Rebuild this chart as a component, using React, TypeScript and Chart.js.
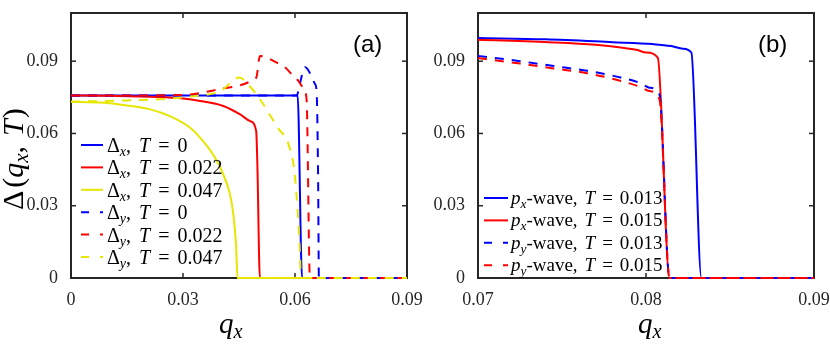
import React, { useEffect, useRef } from 'react';
import { Chart, registerables } from 'chart.js';

Chart.register(...registerables);

// ---------- colours ----------
const BLUE = '#0000FF';
const RED = '#FF0000';
const YELLOW = '#E6E600';
const AXIS = '#262626';

// ---------- shared y axis ----------
const yTicks = [0, 0.03, 0.06, 0.09];
const yTickLabels = ['0', '0.03', '0.06', '0.09'];
const yMax = 0.11;

// ---------- panel (a) ----------
const aXTicks = [0, 0.03, 0.06, 0.09];
const aXTickLabels = ['0', '0.03', '0.06', '0.09'];

const dxT0Q = [0, 0.02, 0.04, 0.0607, 0.0619, 0.075, 0.09];
const dxT0V = [0.0758, 0.0758, 0.0758, 0.0758, 0, 0, 0];

const dxT022Q = [0, 0.01, 0.0212, 0.03, 0.0346, 0.0408, 0.0453, 0.048, 0.0496, 0.0499, 0.0506, 0.07, 0.09];
const dxT022V = [0.0758, 0.0757, 0.0752, 0.0745, 0.0735, 0.0714, 0.0679, 0.0651, 0.061, 0.0485, 0, 0, 0];

const dxT047Q = [0, 0.008, 0.015, 0.0212, 0.0265, 0.0319, 0.0354, 0.0386, 0.0408, 0.0426, 0.0435, 0.0442, 0.0446, 0.06, 0.09];
const dxT047V = [0.0732, 0.0728, 0.0716, 0.07, 0.0672, 0.0624, 0.0568, 0.0499, 0.0429, 0.0346, 0.0262, 0.0138, 0, 0, 0];

const dyT0Q = [0, 0.03, 0.0605, 0.0612, 0.0627, 0.0654, 0.0658, 0.0662, 0.0664, 0.075, 0.09];
const dyT0V = [0.0758, 0.0758, 0.0758, 0.08, 0.0875, 0.0804, 0.0771, 0.04, 0, 0, 0];

const dyT022Q = [0, 0.02, 0.03, 0.0354, 0.04, 0.0453, 0.0488, 0.0497, 0.0506, 0.0551, 0.0573, 0.0591, 0.0609, 0.0622, 0.0631, 0.064, 0.075, 0.09];
const dyT022V = [0.0758, 0.0758, 0.076, 0.077, 0.0785, 0.08, 0.0822, 0.0835, 0.0922, 0.0894, 0.0875, 0.0846, 0.0818, 0.079, 0.0742, 0, 0, 0];

const dyT047Q = [0, 0.012, 0.0238, 0.0319, 0.04, 0.0451, 0.0474, 0.0506, 0.0551, 0.0587, 0.06, 0.0613, 0.0616, 0.075, 0.09];
const dyT047V = [0.0732, 0.0736, 0.0742, 0.0753, 0.0776, 0.0832, 0.0804, 0.0742, 0.063, 0.0533, 0.042, 0.0117, 0, 0, 0];

const aLegendSub = ['x', 'x', 'x', 'y', 'y', 'y'];
const aLegendT = ['0', '0.022', '0.047', '0', '0.022', '0.047'];

// ---------- panel (b) ----------
const bXTicks = [0.07, 0.08, 0.09];
const bXTickLabels = ['0.07', '0.08', '0.09'];

const pxT013Q = [0.07, 0.074, 0.078, 0.0804, 0.0815, 0.0822, 0.0827, 0.0833, 0.09];
const pxT013V = [0.0996, 0.0991, 0.0979, 0.0971, 0.0963, 0.0952, 0.0936, 0, 0];

const pxT015Q = [0.07, 0.0745, 0.077, 0.0785, 0.0795, 0.08, 0.0807, 0.0814, 0.09];
const pxT015V = [0.0989, 0.0978, 0.0968, 0.0957, 0.0946, 0.0936, 0.0915, 0, 0];

const pyT013Q = [0.07, 0.0725, 0.0745, 0.0765, 0.0785, 0.0797, 0.0802, 0.0808, 0.0814, 0.09];
const pyT013V = [0.0922, 0.09, 0.088, 0.086, 0.0832, 0.0808, 0.079, 0.0762, 0, 0];

const pyT015Q = [0.07, 0.0725, 0.0745, 0.0765, 0.0785, 0.0797, 0.0802, 0.0808, 0.0814, 0.09];
const pyT015V = [0.0913, 0.089, 0.087, 0.085, 0.0818, 0.0792, 0.0776, 0.0742, 0, 0];

const bLegendSub = ['x', 'x', 'y', 'y'];
const bLegendT = ['0.013', '0.015', '0.013', '0.015'];

// ---------- helpers ----------
const SERIF = '"Liberation Serif", "Times New Roman", serif';
const SANS = '"Liberation Sans", Arial, sans-serif';
const serif = (size: number, italic = false) => `${italic ? 'italic ' : ''}${size}px ${SERIF}`;

type Seg = { t?: string; it?: boolean; sub?: boolean; gap?: number };

function drawRich(ctx: CanvasRenderingContext2D, segs: Seg[], x: number, y: number, size: number, subDrop = 0.2) {
  let cx = x;
  for (const s of segs) {
    if (s.gap) {
      cx += s.gap;
      continue;
    }
    const t = s.t || '';
    const fs = s.sub ? size * 0.7 : size;
    ctx.font = serif(fs, !!s.it);
    ctx.fillText(t, cx, s.sub ? y + size * subDrop : y);
    cx += ctx.measureText(t).width;
  }
  return cx - x;
}

const pts = (q: number[], v: number[]) => q.map((x, i) => ({ x, y: v[i] }));

type DS = { q: number[]; v: number[]; color: string; dashed: boolean };

type Panel = {
  series: DS[];
  xMin: number;
  xMax: number;
  xTicks: number[];
  xTickLabels: string[];
  yAxisWidth: number;
  padRight: number;
  decorate: (chart: any) => void;
};

function line(ctx: CanvasRenderingContext2D, x1: number, y1: number, x2: number, y2: number) {
  ctx.beginPath();
  ctx.moveTo(x1, y1);
  ctx.lineTo(x2, y2);
  ctx.stroke();
}

function makeConfig(p: Panel): any {
  const frame = {
    id: 'frame',
    beforeDatasetsDraw(chart: any) {
      const { ctx, chartArea } = chart;
      const { left, right, top, bottom } = chartArea;
      const x = chart.scales.x;
      const y = chart.scales.y;
      ctx.save();
      ctx.strokeStyle = AXIS;
      ctx.setLineDash([]);
      ctx.lineWidth = 2;
      ctx.strokeRect(left, top, right - left, bottom - top);
      ctx.lineWidth = 1.5;
      for (const v of p.xTicks) {
        const px = x.getPixelForValue(v);
        line(ctx, px, bottom, px, bottom - 5);
        line(ctx, px, top, px, top + 5);
      }
      for (const v of yTicks) {
        const py = y.getPixelForValue(v);
        line(ctx, left, py, left + 5, py);
        line(ctx, right, py, right - 5, py);
      }
      ctx.restore();
    },
    afterDatasetsDraw(chart: any) {
      p.decorate(chart);
    },
  };

  const tickFont = { family: SERIF, size: 18 };

  return {
    type: 'line',
    data: {
      datasets: p.series.map((s, i) => ({
        data: pts(s.q, s.v),
        borderColor: s.color,
        backgroundColor: s.color,
        borderWidth: 2,
        borderDash: s.dashed ? [9, 8] : [],
        pointRadius: 0,
        cubicInterpolationMode: 'monotone',
        fill: false,
        clip: 6,
        order: -i,
      })),
    },
    options: {
      responsive: false,
      devicePixelRatio: 1,
      animation: false,
      events: [],
      layout: { padding: { top: 13, right: p.padRight, bottom: 0, left: 0 } },
      plugins: { legend: { display: false }, tooltip: { enabled: false } },
      scales: {
        x: {
          type: 'linear',
          min: p.xMin,
          max: p.xMax,
          afterBuildTicks: (s: any) => {
            s.ticks = p.xTicks.map((v) => ({ value: v }));
          },
          ticks: {
            callback: (_v: any, i: number) => p.xTickLabels[i],
            font: tickFont,
            color: AXIS,
            padding: 3,
            maxRotation: 0,
            autoSkip: false,
          },
          grid: { display: false },
          border: { display: false },
          afterFit: (s: any) => {
            s.height = 76;
            s.paddingLeft = 0;
            s.paddingRight = 0;
          },
        },
        y: {
          type: 'linear',
          min: 0,
          max: yMax,
          afterBuildTicks: (s: any) => {
            s.ticks = yTicks.map((v) => ({ value: v }));
          },
          ticks: {
            callback: (_v: any, i: number) => yTickLabels[i],
            font: tickFont,
            color: AXIS,
            padding: 5,
            autoSkip: false,
          },
          grid: { display: false },
          border: { display: false },
          afterFit: (s: any) => {
            s.width = p.yAxisWidth;
            s.paddingTop = 0;
            s.paddingBottom = 0;
          },
        },
      },
    },
    plugins: [frame],
  };
}

function legendSample(ctx: CanvasRenderingContext2D, x1: number, x2: number, y: number, color: string, dashed: boolean) {
  ctx.save();
  ctx.strokeStyle = color;
  ctx.lineWidth = 2;
  ctx.setLineDash(dashed ? [8, 11] : []);
  line(ctx, x1, y, x2, y);
  ctx.restore();
}

const aSeries: DS[] = [
  { q: dxT0Q, v: dxT0V, color: BLUE, dashed: false },
  { q: dxT022Q, v: dxT022V, color: RED, dashed: false },
  { q: dxT047Q, v: dxT047V, color: YELLOW, dashed: false },
  { q: dyT0Q, v: dyT0V, color: BLUE, dashed: true },
  { q: dyT022Q, v: dyT022V, color: RED, dashed: true },
  { q: dyT047Q, v: dyT047V, color: YELLOW, dashed: true },
];

const bSeries: DS[] = [
  { q: pxT013Q, v: pxT013V, color: BLUE, dashed: false },
  { q: pxT015Q, v: pxT015V, color: RED, dashed: false },
  { q: pyT013Q, v: pyT013V, color: BLUE, dashed: true },
  { q: pyT015Q, v: pyT015V, color: RED, dashed: true },
];

function decorateA(chart: any) {
  const ctx: CanvasRenderingContext2D = chart.ctx;
  ctx.save();
  ctx.fillStyle = '#000';
  ctx.textBaseline = 'alphabetic';
  ctx.textAlign = 'left';
  // legend
  aSeries.forEach((s, i) => {
    const yc = 145 + i * 22.4;
    legendSample(ctx, 81, 103, yc, s.color, s.dashed);
    drawRich(
      ctx,
      [
        { t: 'Δ' },
        { t: aLegendSub[i], it: true, sub: true },
        { t: ',' },
        { gap: 8 },
        { t: 'T', it: true },
        { gap: 8 },
        { t: '=' },
        { gap: 8 },
        { t: aLegendT[i] },
      ],
      107,
      yc + 7,
      20,
    );
  });
  // y label
  ctx.save();
  ctx.translate(22.7, 210);
  ctx.rotate(-Math.PI / 2);
  drawRich(
    ctx,
    [
      { t: 'Δ' },
      { gap: 3 },
      { t: '(' },
      { t: 'q', it: true },
      { t: 'x', it: true, sub: true },
      { t: ',' },
      { gap: 10 },
      { t: 'T', it: true },
      { gap: 1 },
      { t: ')' },
    ],
    0,
    0,
    30,
    0.17,
  );
  ctx.restore();
  // x label
  drawRich(ctx, [{ t: 'q', it: true }, { t: 'x', it: true, sub: true }], 219, 333, 29, 0.17);
  // panel label
  ctx.font = `24px ${SANS}`;
  ctx.fillText('(a)', 353, 52);
  ctx.restore();
}

function decorateB(chart: any) {
  const ctx: CanvasRenderingContext2D = chart.ctx;
  ctx.save();
  ctx.fillStyle = '#000';
  ctx.textBaseline = 'alphabetic';
  ctx.textAlign = 'left';
  bSeries.forEach((s, i) => {
    const yc = 198 + i * 22.4;
    legendSample(ctx, 54, 78, yc, s.color, s.dashed);
    drawRich(
      ctx,
      [
        { t: 'p', it: true },
        { t: bLegendSub[i], it: true, sub: true },
        { t: '-wave,' },
        { gap: 7 },
        { t: 'T', it: true },
        { gap: 7 },
        { t: '=' },
        { gap: 7 },
        { t: bLegendT[i] },
      ],
      81,
      yc + 6,
      19,
    );
  });
  drawRich(ctx, [{ t: 'q', it: true }, { t: 'x', it: true, sub: true }], 208, 333, 29, 0.17);
  ctx.font = `24px ${SANS}`;
  ctx.fillText('(b)', 328, 52);
  ctx.restore();
}

export default function App() {
  const aRef = useRef<HTMLCanvasElement>(null);
  const bRef = useRef<HTMLCanvasElement>(null);

  useEffect(() => {
    const a = new Chart(
      aRef.current as HTMLCanvasElement,
      makeConfig({
        series: aSeries,
        xMin: 0,
        xMax: 0.09,
        xTicks: aXTicks,
        xTickLabels: aXTickLabels,
        yAxisWidth: 71,
        padRight: 23,
        decorate: decorateA,
      }),
    );
    const b = new Chart(
      bRef.current as HTMLCanvasElement,
      makeConfig({
        series: bSeries,
        xMin: 0.07,
        xMax: 0.09,
        xTicks: bXTicks,
        xTickLabels: bXTickLabels,
        yAxisWidth: 48,
        padRight: 16,
        decorate: decorateB,
      }),
    );
    return () => {
      a.destroy();
      b.destroy();
    };
  }, []);

  return (
    <div style={{ position: 'fixed', left: 0, top: 0, width: 830, height: 354, background: '#fff' }}>
      <canvas ref={aRef} width={430} height={354} style={{ position: 'absolute', left: 0, top: 0, width: 430, height: 354 }} />
      <canvas ref={bRef} width={400} height={354} style={{ position: 'absolute', left: 430, top: 0, width: 400, height: 354 }} />
    </div>
  );
}
